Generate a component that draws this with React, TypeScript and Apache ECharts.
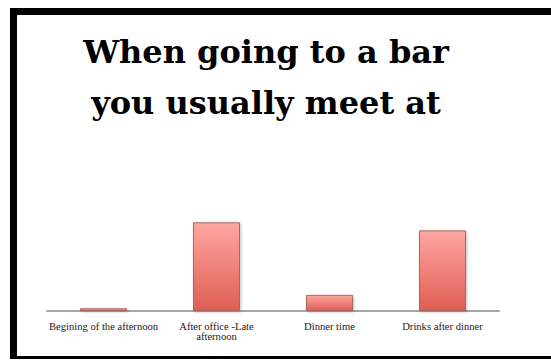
import React, { useEffect, useRef } from "react";
import * as echarts from "echarts";

const categories = [
  "Begining of the afternoon",
  "After office -Late\nafternoon",
  "Dinner time",
  "Drinks after dinner",
];
const values = [1, 33, 6, 30];
const titleLines = ["When going to a bar", "you usually meet at"];

export default function App() {
  const ref = useRef<HTMLDivElement>(null);
  useEffect(() => {
    if (!ref.current) return;
    const chart = echarts.init(ref.current, null, { renderer: "svg" });
    chart.setOption({
      animation: false,
      backgroundColor: "#ffffff",
      title: {
        text: titleLines.join("\n"),
        left: 261,
        top: 21,
        textAlign: "center",
        textStyle: {
          fontFamily: "DejaVu Serif",
          fontWeight: "bold",
          fontSize: 32,
          lineHeight: 51,
          color: "#000000",
        },
      },
      grid: { left: 47, right: 52, top: 203.5, bottom: 50 },
      xAxis: {
        type: "category",
        data: categories,
        axisLine: { lineStyle: { color: "#a6a6a6", width: 2 } },
        axisTick: { show: false },
        axisLabel: {
          interval: 0,
          margin: 10,
          fontFamily: "Liberation Serif",
          fontSize: 10.6,
          lineHeight: 10,
          color: "#1a1a1a",
        },
      },
      yAxis: {
        type: "value",
        min: 0,
        max: 40,
        show: false,
        splitLine: { show: false },
      },
      series: [
        {
          type: "bar",
          data: values,
          barWidth: 47,
          itemStyle: {
            color: new echarts.graphic.LinearGradient(0, 0, 0, 1, [
              { offset: 0, color: "#ffa6a1" },
              { offset: 1, color: "#df5e54" },
            ]),
            borderColor: "#a86862",
            borderWidth: 1,
            shadowColor: "rgba(0,0,0,0.25)",
            shadowBlur: 3,
            shadowOffsetX: 1,
            shadowOffsetY: 1,
          },
        },
      ],
      graphic: [
        { type: "rect", shape: { x: 10, y: 8, width: 7, height: 351 }, style: { fill: "#000" } },
        { type: "rect", shape: { x: 10, y: 8, width: 541, height: 7, r: [4, 0, 0, 0] }, style: { fill: "#000" } },
        { type: "rect", shape: { x: 10, y: 356, width: 541, height: 3 }, style: { fill: "#000" } },
      ],
    });
    return () => chart.dispose();
  }, []);
  return (
    <div
      ref={ref}
      style={{ position: "absolute", left: 0, top: 0, width: 551, height: 361 }}
    />
  );
}
